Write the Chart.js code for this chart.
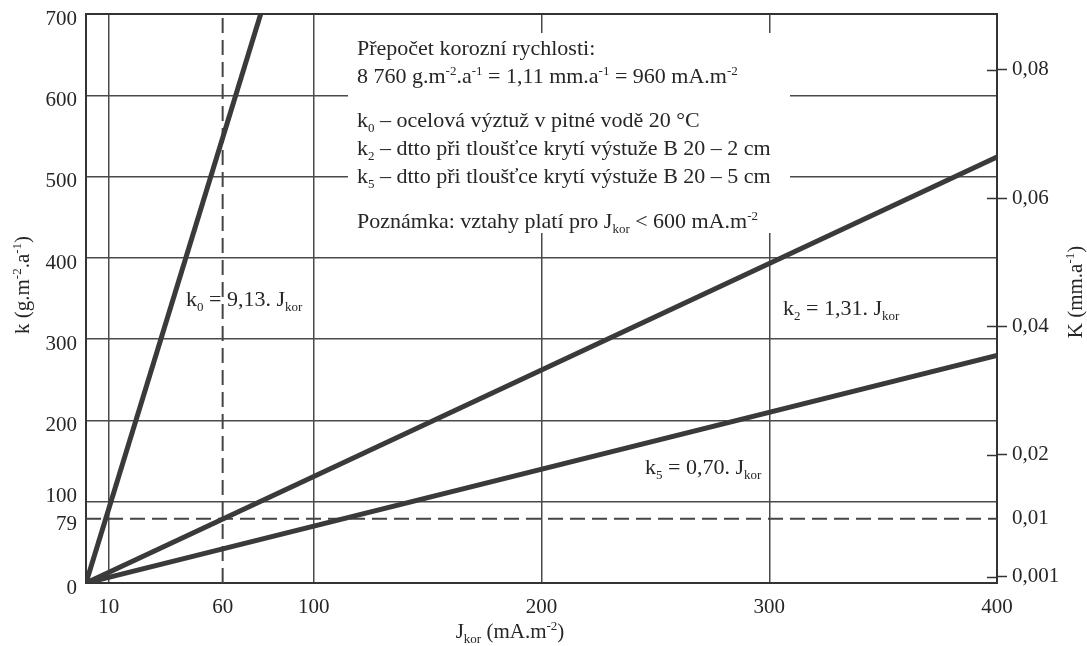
<!DOCTYPE html>
<html>
<head>
<meta charset="utf-8">
<style>
  html, body { margin: 0; padding: 0; background: #fff; }
  #wrap { width: 1087px; height: 646px; position: relative; }
</style>
<script src="https://cdn.jsdelivr.net/npm/chart.js@4.4.1/dist/chart.umd.min.js"></script>
</head>
<body>
<div id="wrap"><canvas id="c" width="1087" height="646"></canvas></div>
<script>
// ---- data ----
const jKor0 = [0, 76.7];   // k0 line endpoints (mA.m-2)
const kVal0 = [0, 700];    // g.m-2.a-1
const jKor2 = [0, 400];
const kVal2 = [0, 524];
const jKor5 = [0, 400];
const kVal5 = [0, 280];
const refJ = 60;           // dashed vertical
const refK = 79;           // dashed horizontal
const xTickValues = [10, 60, 100, 200, 300, 400];
const yTickValues = [0, 79, 100, 200, 300, 400, 500, 600, 700];
const kRightTicks = [0.001, 0.01, 0.02, 0.04, 0.06, 0.08];
const gPerMm = 8760 / 1.11; // conversion g.m-2.a-1 per mm.a-1
const xMin = 0, xMax = 400, yMin = 0, yMax = 700;

const infoLines = [
  [["Přepočet korozní rychlosti:"]],
  [["8 760 g.m"], ["-2", "sup"], [".a"], ["-1", "sup"], [" = 1,11 mm.a"], ["-1", "sup"], [" = 960 mA.m"], ["-2", "sup"]],
  [["k"], ["0", "sub"], [" – ocelová výztuž v pitné vodě 20 °C"]],
  [["k"], ["2", "sub"], [" – dtto při tloušťce krytí výstuže B 20 – 2 cm"]],
  [["k"], ["5", "sub"], [" – dtto při tloušťce krytí výstuže B 20 – 5 cm"]],
  [["Poznámka: vztahy platí pro J"], ["kor", "sub"], [" < 600 mA.m"], ["-2", "sup"]]
];
const label0 = [["k"], ["0", "sub"], [" = 9,13. J"], ["kor", "sub"]];
const label2 = [["k"], ["2", "sub"], [" = 1,31. J"], ["kor", "sub"]];
const label5 = [["k"], ["5", "sub"], [" = 0,70. J"], ["kor", "sub"]];
const titleX = [["J"], ["kor", "sub"], [" (mA.m"], ["-2", "sup"], [")"]];
const titleY = [["k (g.m"], ["-2", "sup"], [".a"], ["-1", "sup"], [")"]];
const titleY2 = [["K (mm.a"], ["-1", "sup"], [")"]];

const FONT = '"Liberation Serif", "DejaVu Serif", serif';
const INK = '#262626';
const LINE = '#3a3a3a';
const GRID = '#4a4a4a';

function pts(xs, ys) { return xs.map((x, i) => ({ x: x, y: ys[i] })); }

function drawRich(ctx, x, y, segs, size, align) {
  const small = Math.round(size * 0.6);
  let total = 0;
  const parts = segs.map(s => {
    const f = (s[1] ? small : size) + 'px ' + FONT;
    ctx.font = f;
    const w = ctx.measureText(s[0]).width;
    total += w;
    return { t: s[0], k: s[1], f: f, w: w };
  });
  let cx = align === 'center' ? x - total / 2 : x;
  ctx.textBaseline = 'alphabetic';
  ctx.textAlign = 'left';
  parts.forEach(p => {
    ctx.font = p.f;
    let dy = 0;
    if (p.k === 'sub') dy = size * 0.22;
    if (p.k === 'sup') dy = -size * 0.36;
    ctx.fillText(p.t, cx, y + dy);
    cx += p.w;
  });
}

const decor = {
  id: 'decor',
  beforeDatasetsDraw(chart) {
    const ctx = chart.ctx, a = chart.chartArea;
    ctx.save();
    // white info box covering grid
    ctx.fillStyle = '#fff';
    ctx.fillRect(348, 33, 442, 200);
    // frame
    ctx.strokeStyle = '#333';
    ctx.lineWidth = 2;
    ctx.strokeRect(a.left, a.top, a.right - a.left, a.bottom - a.top);
    // inner part of right ticks
    const s = chart.scales.y2;
    ctx.lineWidth = 1.5;
    kRightTicks.forEach(v => {
      if (v === 0.01) return;
      const py = Math.round(s.getPixelForValue(v)) + 0.5;
      ctx.beginPath();
      ctx.moveTo(a.right - 10, py);
      ctx.lineTo(a.right, py);
      ctx.stroke();
    });
    ctx.restore();
  },
  afterDatasetsDraw(chart) {
    const ctx = chart.ctx;
    ctx.save();
    ctx.fillStyle = INK;
    const baselines = [55, 83, 127, 155, 183, 228];
    infoLines.forEach((l, i) => drawRich(ctx, 357, baselines[i], l, 22));
    drawRich(ctx, 186, 306, label0, 22);
    drawRich(ctx, 783, 315, label2, 22);
    drawRich(ctx, 645, 474, label5, 22);
    drawRich(ctx, 510, 638, titleX, 21, 'center');
    ctx.save();
    ctx.translate(29, 285);
    ctx.rotate(-Math.PI / 2);
    drawRich(ctx, 0, 0, titleY, 21, 'center');
    ctx.restore();
    ctx.save();
    ctx.translate(1082, 292);
    ctx.rotate(-Math.PI / 2);
    drawRich(ctx, 0, 0, titleY2, 21, 'center');
    ctx.restore();
    ctx.restore();
  }
};

const tickFont = { family: FONT, size: 21 };
const leftTickFont = { family: FONT, size: 21, lineHeight: 0.5 };

new Chart(document.getElementById('c'), {
  type: 'scatter',
  data: {
    datasets: [
      { data: pts(jKor0, kVal0), showLine: true, borderColor: LINE, borderWidth: 5, pointRadius: 0 },
      { data: pts(jKor2, kVal2), showLine: true, borderColor: LINE, borderWidth: 5, pointRadius: 0 },
      { data: pts(jKor5, kVal5), showLine: true, borderColor: LINE, borderWidth: 5, pointRadius: 0 },
      { data: pts([refJ, refJ], [yMin, yMax]), showLine: true, borderColor: '#444', borderWidth: 2, borderDash: [15, 7], pointRadius: 0 },
      { data: pts([xMin, xMax], [refK, refK]), showLine: true, borderColor: '#444', borderWidth: 2, borderDash: [15, 7], pointRadius: 0 }
    ]
  },
  options: {
    responsive: false,
    animation: false,
    events: [],
    layout: { padding: { top: 14, left: 0, right: 0, bottom: 0 } },
    plugins: { legend: { display: false }, tooltip: { enabled: false } },
    scales: {
      x: {
        type: 'linear', min: xMin, max: xMax,
        afterBuildTicks(s) { s.ticks = xTickValues.map(v => ({ value: v })); },
        afterFit(s) { s.height = 63; s.paddingLeft = 0; s.paddingRight = 0; },
        grid: {
          drawTicks: false,
          lineWidth: 1.5,
          color: c => (c.tick && (c.tick.value === refJ || c.tick.value === xMax)) ? 'rgba(0,0,0,0)' : GRID
        },
        border: { display: false },
        ticks: { autoSkip: false, maxRotation: 0, padding: 12, color: INK, font: tickFont, callback: v => String(v) }
      },
      y: {
        type: 'linear', position: 'left', min: yMin, max: yMax,
        afterBuildTicks(s) { s.ticks = yTickValues.map(v => ({ value: v })); },
        afterFit(s) { s.width = 86; s.paddingTop = 0; s.paddingBottom = 0; },
        grid: {
          drawTicks: false,
          lineWidth: 1.5,
          color: c => (c.tick && (c.tick.value === refK || c.tick.value === yMin || c.tick.value === yMax)) ? 'rgba(0,0,0,0)' : GRID
        },
        border: { display: false },
        ticks: {
          autoSkip: false, padding: 9, color: INK, font: leftTickFont,
          callback: v => v === 100 ? ['100', ''] : ['', String(v)]
        }
      },
      y2: {
        type: 'linear', position: 'right', min: yMin / gPerMm, max: yMax / gPerMm,
        afterBuildTicks(s) { s.ticks = kRightTicks.map(v => ({ value: v })); },
        afterFit(s) { s.width = 90; s.paddingTop = 0; s.paddingBottom = 0; },
        grid: {
          drawOnChartArea: false, drawTicks: true, tickLength: 10, tickWidth: 1.5,
          tickColor: c => (c.tick && c.tick.value === 0.01) ? 'rgba(0,0,0,0)' : '#333'
        },
        border: { display: false },
        ticks: {
          autoSkip: false, padding: 5, color: INK, font: tickFont,
          callback: v => String(v).replace('.', ',')
        }
      }
    }
  },
  plugins: [decor]
});
</script>
</body>
</html>
